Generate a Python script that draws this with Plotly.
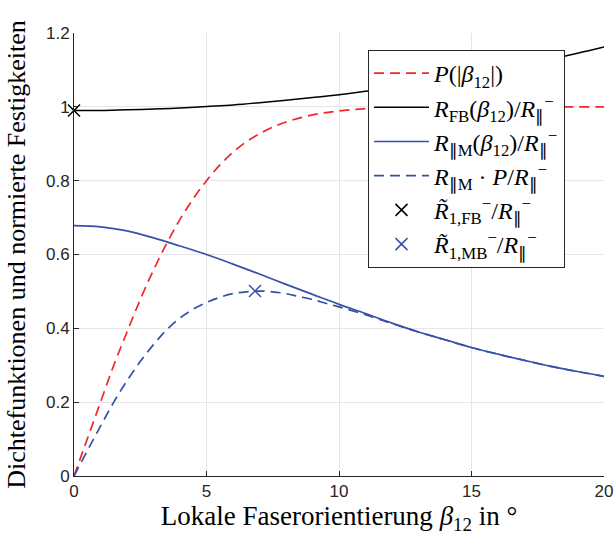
import plotly.graph_objects as go

# --- data ---
beta_p = [0, 0.5, 1, 1.5, 2, 2.5, 3, 3.5, 4, 4.5, 5, 5.5, 6, 6.5, 7, 7.5, 8, 9, 10, 11, 12, 13, 14, 15, 16, 17, 18, 19, 20]
p_vals = [0, 0.10, 0.20, 0.30, 0.39, 0.478, 0.558, 0.63, 0.695, 0.751, 0.80, 0.842, 0.877, 0.905, 0.927, 0.945, 0.959, 0.978, 0.989, 0.995, 0.998, 0.999, 1.0, 1.0, 1.0, 1.0, 1.0, 1.0, 1.0]

beta_int = list(range(0, 21))
r_fb = [0.990, 0.990, 0.992, 0.994, 0.997, 1.001, 1.005, 1.011, 1.018, 1.025, 1.033,
        1.042, 1.052, 1.063, 1.074, 1.087, 1.100, 1.114, 1.129, 1.145, 1.162]
r_m = [0.678, 0.675, 0.664, 0.645, 0.623, 0.600, 0.574, 0.547, 0.519, 0.492, 0.465,
       0.440, 0.414, 0.390, 0.369, 0.348, 0.330, 0.313, 0.297, 0.283, 0.270]

beta_d = [0, 0.5, 1, 1.5, 2, 2.5, 3, 3.5, 4, 4.5, 5, 5.5, 6, 6.5, 7, 7.5, 8, 8.5, 9, 9.5, 10, 11, 12, 13, 14, 15, 16, 17, 18, 19, 20]
r_mp = [0, 0.068, 0.135, 0.200, 0.258, 0.310, 0.356, 0.396, 0.428, 0.452, 0.470, 0.484, 0.494, 0.499, 0.501, 0.499,
        0.494, 0.486, 0.478, 0.468, 0.458, 0.437, 0.413, 0.390, 0.369, 0.348, 0.330, 0.313, 0.297, 0.283, 0.270]

fb_point = (0.0, 0.99)
mb_point = (6.83, 0.501)

x_ticks = [0, 5, 10, 15, 20]
y_ticks = [0, 0.2, 0.4, 0.6, 0.8, 1.0, 1.2]
y_ticklabels = ["0", "0.2", "0.4", "0.6", "0.8", "1", "1.2"]

RED = "#f0262b"
BLUE = "#3652a8"
BLACK = "#000000"
AX = "#262626"
SERIF = "Liberation Serif, serif"

R_par = "<i>R</i><sub>∥</sub><sup>−</sup>"
names = [
    "<i>P</i>(|<i>β</i><sub>12</sub>|)",
    "<i>R</i><sub>FB</sub>(<i>β</i><sub>12</sub>)/" + R_par,
    "<i>R</i><sub>∥M</sub>(<i>β</i><sub>12</sub>)/" + R_par,
    "<i>R</i><sub>∥M</sub> · <i>P</i>/" + R_par,
    "<i>R̃</i><sub>1,FB</sub><sup>−</sup>/" + R_par,
    "<i>R̃</i><sub>1,MB</sub><sup>−</sup>/" + R_par,
]

fig = go.Figure()
fig.add_trace(go.Scatter(x=beta_p, y=p_vals, mode="lines", name=names[0], line_shape="spline",
                         line=dict(color=RED, width=1.7, dash="10px,6px")))
fig.add_trace(go.Scatter(x=beta_int, y=r_fb, mode="lines", name=names[1], line_shape="spline",
                         line=dict(color=BLACK, width=1.5)))
fig.add_trace(go.Scatter(x=beta_int, y=r_m, mode="lines", name=names[2], line_shape="spline",
                         line=dict(color=BLUE, width=1.7)))
fig.add_trace(go.Scatter(x=beta_d, y=r_mp, mode="lines", name=names[3], line_shape="spline",
                         line=dict(color=BLUE, width=1.7, dash="10px,6px")))
fig.add_trace(go.Scatter(x=[fb_point[0]], y=[fb_point[1]], mode="markers", name=names[4], cliponaxis=False,
                         marker=dict(symbol="x-thin-open", size=12, color=BLACK, line=dict(color=BLACK, width=1.5))))
fig.add_trace(go.Scatter(x=[mb_point[0]], y=[mb_point[1]], mode="markers", name=names[5], cliponaxis=False,
                         marker=dict(symbol="x-thin-open", size=12, color=BLUE, line=dict(color=BLUE, width=1.5))))

fig.update_layout(
    width=614, height=535,
    margin=dict(l=74, r=10, t=33, b=59),
    plot_bgcolor="white", paper_bgcolor="white",
    font=dict(family="Liberation Sans, Arial, sans-serif", size=17, color=AX),
    showlegend=True,
    legend=dict(x=(368 - 74) / 530, y=(476 - 50) / 443, xanchor="left", yanchor="top",
                bgcolor="white", bordercolor=AX, borderwidth=1,
                font=dict(family=SERIF, size=24, color=BLACK),
                itemwidth=55, tracegroupgap=0),
)
fig.update_xaxes(range=[0, 20], tickvals=x_ticks, ticktext=[str(v) for v in x_ticks],
                 showgrid=True, gridcolor="#e6e6e6", gridwidth=1, automargin=False,
                 showline=True, linecolor=AX, linewidth=1, ticks="inside", ticklen=5, tickcolor=AX,
                 zeroline=False,
                 title=dict(text="Lokale Faserorientierung <i>β</i><sub>12</sub> in °",
                            font=dict(family=SERIF, size=27, color=BLACK), standoff=1))
fig.update_yaxes(range=[0, 1.2], tickvals=y_ticks, ticktext=y_ticklabels,
                 showgrid=True, gridcolor="#e6e6e6", gridwidth=1, automargin=False,
                 showline=True, linecolor=AX, linewidth=1, ticks="inside", ticklen=5, tickcolor=AX,
                 zeroline=False,
                 title=dict(text="Dichtefunktionen und normierte Festigkeiten",
                            font=dict(family=SERIF, size=26, color=BLACK), standoff=12))

fig.write_html("out.html", config={"displayModeBar": False},
               post_script="document.body.style.margin='0';document.body.style.padding='0';")
